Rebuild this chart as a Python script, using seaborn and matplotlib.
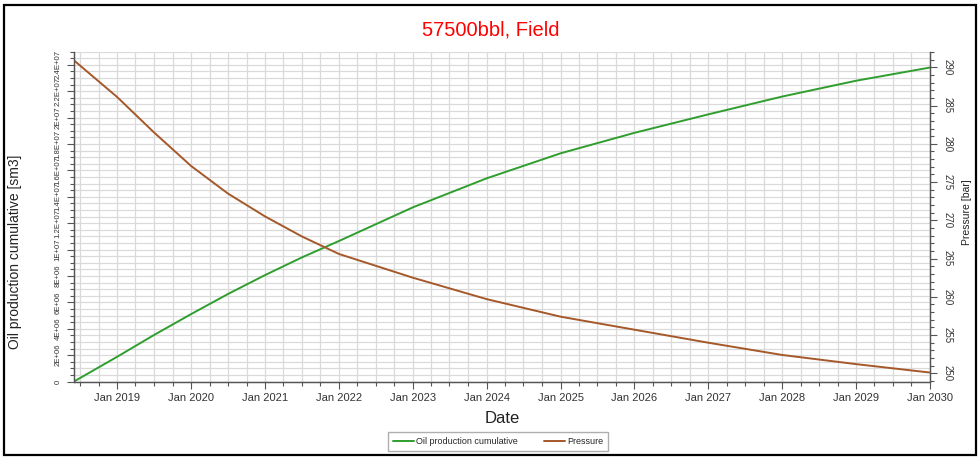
import matplotlib
matplotlib.use("Agg")
import matplotlib.pyplot as plt
import matplotlib.dates as mdates
import matplotlib.ticker as mticker
from matplotlib import font_manager
from matplotlib.patches import Rectangle
import pandas as pd
import seaborn as sns

# ---- data ----
dates = ["2018-06-01", "2019-01-01", "2019-07-01", "2020-01-01", "2020-07-01",
         "2021-01-01", "2021-07-01", "2022-01-01", "2023-01-01", "2024-01-01",
         "2025-01-01", "2026-01-01", "2027-01-01", "2028-01-01", "2029-01-01",
         "2030-01-01"]
oil_cum = [0.0, 1.88e6, 3.52e6, 5.11e6, 6.63e6, 8.07e6, 9.40e6, 10.65e6, 13.2e6,
           15.4e6, 17.3e6, 18.85e6, 20.25e6, 21.6e6, 22.8e6, 23.8e6]
pressure = [290.9, 286.1, 281.5, 277.1, 273.5, 270.5, 267.9, 265.6, 262.5,
            259.7, 257.4, 255.7, 254.0, 252.4, 251.2, 250.1]
series_names = ["Oil production cumulative", "Pressure"]
title = "57500bbl, Field"

df = pd.DataFrame({"Date": pd.to_datetime(dates), "oil": oil_cum, "pressure": pressure})

sns.set_style("white")
plt.rcParams['font.family'] = ['Liberation Sans', 'DejaVu Sans']

installed = {f.name for f in font_manager.fontManager.ttflist}
narrow = 'Liberation Sans Narrow' if 'Liberation Sans Narrow' in installed else None

W, H = 979, 457
fig = plt.figure(figsize=(W / 100, H / 100), dpi=100)
L, R, B, T = 74, 930, 381.5, 51.7
ax = fig.add_axes([L / W, 1 - B / H, (R - L) / W, (B - T) / H])
ax2 = ax.twinx()

green = '#2f9e2f'
brown = '#a5582a'
sns.lineplot(data=df, x="Date", y="oil", ax=ax, color=green, lw=1.4,
             label=series_names[0], legend=False)
sns.lineplot(data=df, x="Date", y="pressure", ax=ax2, color=brown, lw=1.4,
             label=series_names[1], legend=False)

ax.set_xlim(pd.Timestamp("2018-06-01"), pd.Timestamp("2030-01-01"))
ax.set_ylim(0, 2.5e7)
ax2.set_ylim(248.93, 292.04)

ax.xaxis.set_major_locator(mdates.YearLocator())
ax.xaxis.set_major_formatter(mdates.DateFormatter("Jan %Y"))
ax.xaxis.set_minor_locator(mdates.MonthLocator(bymonth=[1, 4, 7, 10]))
ax.yaxis.set_major_locator(mticker.MultipleLocator(2e6))
ax.yaxis.set_minor_locator(mticker.MultipleLocator(5e5))
ax.yaxis.set_major_formatter(mticker.FuncFormatter(lambda v, p: "0" if v == 0 else "%G" % v))
ax2.yaxis.set_major_locator(mticker.MultipleLocator(5))
ax2.yaxis.set_minor_locator(mticker.MultipleLocator(1))

ax.set_axisbelow(True)
ax.grid(True, which='both', axis='both', color='#dadada', lw=0.9)

tick_col = '#333333'
ax.tick_params(axis='x', which='major', length=5, width=0.8, color='#555555',
               labelsize=8, labelcolor=tick_col, pad=3, direction='out', bottom=True)
ax.tick_params(axis='x', which='minor', length=3, width=0.8, color='#555555', bottom=True)
ax.tick_params(axis='y', which='major', length=5, width=0.8, color='#555555',
               labelsize=6.3 if narrow else 5.6, labelcolor=tick_col, pad=4,
               labelrotation=90, left=True)
ax.tick_params(axis='y', which='minor', length=3, width=0.8, color='#555555', left=True)
ax2.tick_params(axis='y', which='major', length=5, width=0.8, color='#555555',
                labelsize=7, labelcolor=tick_col, pad=4, labelrotation=270, right=True)
ax2.tick_params(axis='y', which='minor', length=3, width=0.8, color='#555555', right=True)
for lab in ax.get_yticklabels():
    lab.set_va('center')
    if narrow:
        lab.set_family([narrow, 'Liberation Sans'])
for lab in ax2.get_yticklabels():
    lab.set_va('center')

for a in (ax, ax2):
    a.spines['top'].set_visible(False)
    for s in ('left', 'right', 'bottom'):
        a.spines[s].set_color('#555555')
        a.spines[s].set_linewidth(0.9)

ax.set_xlabel("Date", fontsize=12, color='#222222')
ax.xaxis.set_label_coords(0.5, (B - 411) / (B - T))
ax.set_ylabel("Oil production cumulative [sm3]", fontsize=10, color='#222222')
ax.yaxis.set_label_coords((22 - L) / (R - L), (B - 252) / (B - T))
ax2.set_ylabel("Pressure [bar]", fontsize=7.5, color='#222222', rotation=90)
ax2.yaxis.set_label_coords((962 - L) / (R - L), (B - 212) / (B - T))

fig.text(491 / W, 1 - 30 / H, title, color='red', fontsize=14.5, ha='center', va='center')

h1, l1 = ax.get_legend_handles_labels()
h2, l2 = ax2.get_legend_handles_labels()
fig.legend(h1 + h2, l1 + l2, loc='center', bbox_to_anchor=(498 / W, 1 - 441.5 / H),
           ncol=2, fontsize=6.5, frameon=True, fancybox=False, edgecolor='#9a9a9a',
           handlelength=2.3, handletextpad=0.2, columnspacing=3.0, borderpad=0.5)

fig.patches.append(Rectangle((4 / W, 1 - 455 / H), (976 - 4) / W, (455 - 5) / H,
                             transform=fig.transFigure, fill=False, lw=1.6, ec='black'))

fig.savefig("out.png", dpi=100)
